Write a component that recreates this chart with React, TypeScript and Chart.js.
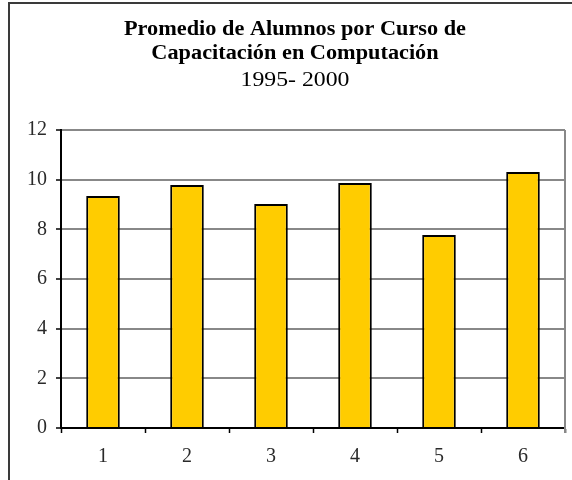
import React, { useEffect, useRef } from "react";
import { Chart, registerables } from "chart.js";

Chart.register(...registerables);

const categories = ["1", "2", "3", "4", "5", "6"];
const values = [9.34, 9.79, 9.02, 9.87, 7.77, 10.31];
const titleLines = ["Promedio de Alumnos por Curso de", "Capacitación en Computación"];
const subtitleText = "1995- 2000";
const yMin = 0;
const yMax = 12;
const yStep = 2;

const FONT = "'Liberation Serif', 'Times New Roman', serif";

const framePlugin = {
  id: "framePlugin",
  afterDraw(chart: any) {
    const { ctx, chartArea } = chart;
    ctx.save();
    // outer frame
    ctx.strokeStyle = "#3a3a3a";
    ctx.lineWidth = 2;
    ctx.strokeRect(9, 3, 700, 700);
    // plot area right border
    ctx.strokeStyle = "#888888";
    ctx.lineWidth = 2;
    ctx.beginPath();
    ctx.moveTo(Math.round(chartArea.right), chartArea.top);
    ctx.lineTo(Math.round(chartArea.right), chartArea.bottom + 5);
    ctx.stroke();

    // title (wide serif look, horizontally stretched)
    const cx = 295;
    ctx.fillStyle = "#000000";
    ctx.textAlign = "center";
    ctx.textBaseline = "alphabetic";
    const boldFont = `bold 20px ${FONT}`;
    const regFont = `20px ${FONT}`;
    ctx.font = boldFont;
    const sxBold = 342 / ctx.measureText(titleLines[0]).width;
    ctx.font = regFont;
    const sxReg = 109 / ctx.measureText(subtitleText).width;
    const drawLine = (text: string, y: number, font: string, sx: number) => {
      ctx.save();
      ctx.font = font;
      ctx.translate(cx, y);
      ctx.scale(sx, 1);
      ctx.fillText(text, 0, 0);
      ctx.restore();
    };
    drawLine(titleLines[0], 34.5, boldFont, sxBold);
    drawLine(titleLines[1], 58.5, boldFont, sxBold);
    drawLine(subtitleText, 85.5, regFont, sxReg);
    ctx.restore();
  },
};

export default function App() {
  const ref = useRef<HTMLCanvasElement | null>(null);
  useEffect(() => {
    if (!ref.current) return;
    const chart = new Chart(ref.current, {
      type: "bar",
      data: {
        labels: categories,
        datasets: [
          {
            data: values,
            backgroundColor: "#FFCC00",
            borderColor: "#000000",
            borderWidth: 2,
            barPercentage: 0.4,
            categoryPercentage: 1,
          },
        ],
      },
      options: {
        animation: false,
        responsive: false,
        layout: { padding: { left: 25, right: 7, top: 130, bottom: 0 } },
        plugins: {
          legend: { display: false },
          tooltip: { enabled: false },
          title: { display: false },
        },
        scales: {
          x: {
            offset: true,
            grid: {
              offset: true,
              drawOnChartArea: false,
              drawTicks: true,
              tickLength: 5,
              tickColor: "#000000",
              tickWidth: 1.5,
            },
            border: { color: "#000000", width: 2 },
            ticks: {
              color: "#2a2a2a",
              font: { family: FONT, size: 20 },
              padding: 12,
            },
            afterFit: (scale: any) => {
              scale.height = 52;
            },
          },
          y: {
            min: yMin,
            max: yMax,
            ticks: {
              stepSize: yStep,
              color: "#2a2a2a",
              font: { family: FONT, size: 20 },
              padding: 9,
            },
            grid: {
              color: "#888888",
              lineWidth: 2,
              tickLength: 5,
              tickColor: "#000000",
              tickWidth: 1.5,
            },
            border: { color: "#000000", width: 2 },
            afterFit: (scale: any) => {
              scale.width = 36;
            },
          },
        },
      },
      plugins: [framePlugin],
    });
    return () => chart.destroy();
  }, []);
  return (
    <div style={{ position: "fixed", left: 0, top: 0, width: 572, height: 480, background: "#fff" }}>
      <canvas ref={ref} width={572} height={480} style={{ display: "block" }} />
    </div>
  );
}
